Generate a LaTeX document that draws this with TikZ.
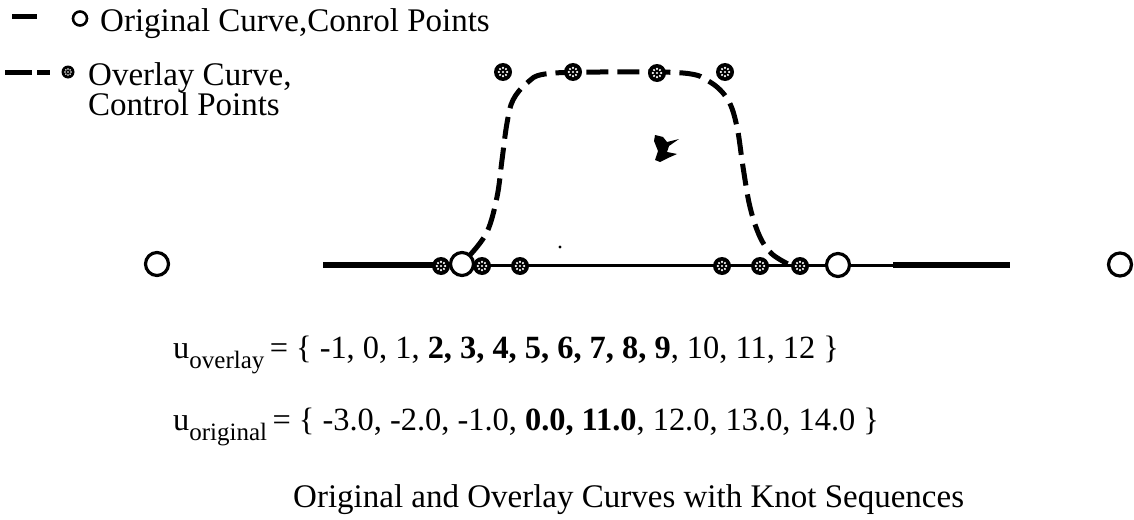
\documentclass[tikz,border=0pt]{standalone}
\usepackage{fontspec}
\setmainfont{Liberation Serif}
\tikzset{
  orpt/.style={circle, draw, fill=white, line width=3.2pt, inner sep=0pt, minimum size=#1},
  orpt/.default=23pt,
  ovpt/.style={circle, fill=black, inner sep=0pt, minimum size=#1, path picture={
      \foreach \a in {0,45,...,315}
        \fill[white] (path picture bounding box.center) ++(\a:0.23*#1) circle (0.065*#1);
      \fill[white] (path picture bounding box.center) circle (0.065*#1);}},
  ovpt/.default=18pt,
  ovline/.style={line width=5pt, dash pattern=on 22pt off 9pt},
  txt/.style={anchor=base west, inner sep=0pt, font=\fontsize{33}{30}\selectfont},
  eqtxt/.style={txt, font=\fontsize{32.4}{30}\selectfont},
}
\newcommand{\subtxt}[1]{\raisebox{-0.31em}{\fontsize{25}{25}\selectfont #1}}
\begin{document}
\begin{tikzpicture}[x=1pt, y=-1pt]
  \useasboundingbox (0,0) rectangle (1134,519);
  % 凡例
  \draw[line width=5pt] (12,17) -- (37,17);
  \node[orpt=14pt, line width=2.6pt] (lgor) at (80,18.5) {};
  \node[txt] (lgortxt) at (100,32) {Original Curve,Conrol Points};
  \draw[ovline, dash pattern=on 27pt off 5pt] (5,72) -- (50,72);
  \node[ovpt=13pt] (lgov) at (68,72) {};
  \node[txt] (lgovtxt) at (88,85) {Overlay Curve,};
  \node[txt] (lgovtxtb) at (88,115) {Control Points};
  % 元の曲線
  \coordinate (ol) at (323,265);
  \coordinate (or) at (1010,265);
  \draw[line width=3pt] (ol) -- (or);
  \draw[line width=6pt] (ol) -- (440,265);
  \draw[line width=6pt] (893,265) -- (or);
  % 重ねた曲線（破線）
  \draw[ovline, smooth, tension=0.6] plot coordinates {(470,255) (487,232) (497,197) (502,160)
    (507,123) (513,100) (527,83) (545,74) (600,72) (683,73) (710,82) (728,100) (737,127)
    (743,167) (750,207) (760,237) (772,254) (790,265)};
  % 制御点
  \node[orpt] (p0) at (157,264) {};
  \node[orpt] (p3) at (1120,264.5) {};
  \foreach \x/\y [count=\i] in {441/266, 482/266, 520/266, 503/72, 573/72, 657/73, 725/72,
      722/266, 760/266, 800/266}
    \node[ovpt] (q\i) at (\x,\y) {};
  \node[orpt] (p1) at (462,264) {};
  \node[orpt] (p2) at (838,265) {};
  % ゴミ
  \fill (560,247) circle (1.6);
  \fill (655,135) -- (663,137) -- (667,142) -- (679,139) -- (669,146) -- (667,152) -- (677,154)
    -- (668,158) -- (660,162) -- (655,160) -- (658,151) -- (654,141) -- cycle;
  % ノット列
  \node[eqtxt] (uov) at (173,358) {u\subtxt{overlay}\,=\ \{ -1, 0, 1, \textbf{2, 3, 4, 5, 6, 7, 8, 9}, 10, 11, 12 \}};
  \node[eqtxt] (uor) at (173,430) {u\subtxt{original}\,=\ \{ -3.0, -2.0, -1.0, \textbf{0.0, 11.0}, 12.0, 13.0, 14.0 \}};
  \node[txt] (cap) at (293,507) {Original and Overlay Curves with Knot Sequences};
\end{tikzpicture}
\end{document}
